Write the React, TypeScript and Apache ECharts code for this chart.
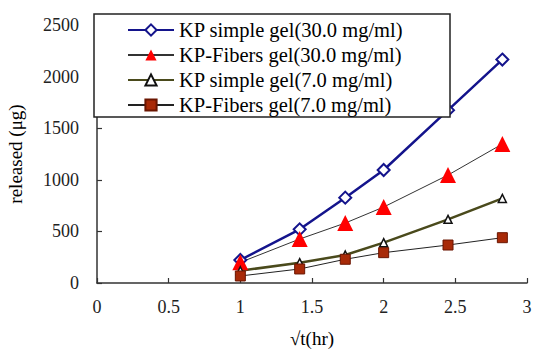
import React, { useEffect, useRef } from "react";
import * as echarts from "echarts";

const xValues = [1, 1.414, 1.732, 2, 2.449, 2.828];
const seriesNames = [
  "KP simple gel(30.0 mg/ml)",
  "KP-Fibers gel(30.0 mg/ml)",
  "KP simple gel(7.0 mg/ml)",
  "KP-Fibers gel(7.0 mg/ml)",
];
const simple30 = [223, 520, 827, 1095, 1675, 2165];
const fibers30 = [200, 426, 581, 736, 1046, 1347];
const simple7 = [119, 197, 271, 391, 617, 820];
const fibers7 = [68, 136, 230, 294, 368, 439];

const FONT = "'Liberation Serif', 'Times New Roman', serif";

export default function App() {
  const ref = useRef<HTMLDivElement>(null);
  useEffect(() => {
    document.body.style.margin = "0";
    if (!ref.current) return;
    const chart = echarts.init(ref.current, null, { renderer: "svg" });
    const pair = (ys: number[]) => xValues.map((x, i) => [x, ys[i]]);
    chart.setOption({
      animation: false,
      backgroundColor: "#fff",
      textStyle: { fontFamily: FONT },
      grid: { left: 97, right: 6, top: 25, bottom: 68, containLabel: false, outerBoundsMode: "none" },
      graphic: [
        {
          type: "rect",
          z: 50,
          shape: { x: 94, y: 14, width: 356, height: 103 },
          style: { fill: "#fff", stroke: "#222", lineWidth: 1.5 },
        },
      ],
      legend: {
        orient: "vertical",
        left: 127,
        top: 19.5,
        z: 60,
        padding: 0,
        itemWidth: 46,
        itemHeight: 14,
        itemGap: 4,
        textStyle: { fontFamily: FONT, fontSize: 20.5, color: "#000" },
        data: seriesNames,
      },
      xAxis: {
        type: "value",
        min: 0,
        max: 3,
        interval: 0.5,
        name: "√t(hr)",
        nameLocation: "middle",
        nameGap: 46,
        nameTextStyle: { fontFamily: FONT, fontSize: 19, color: "#000" },
        axisLine: { lineStyle: { color: "#333", width: 1.5 } },
        axisTick: { inside: true, length: 5, lineStyle: { color: "#333", width: 1.2 } },
        axisLabel: { fontFamily: FONT, fontSize: 18, color: "#222", margin: 15 },
        splitLine: { show: false },
      },
      yAxis: {
        type: "value",
        min: 0,
        max: 2500,
        interval: 500,
        name: "released (μg)",
        nameLocation: "middle",
        nameGap: 72,
        nameTextStyle: { fontFamily: FONT, fontSize: 19, color: "#000" },
        axisLine: { show: true, lineStyle: { color: "#333", width: 1.5 } },
        axisTick: { show: true, inside: true, length: 5, lineStyle: { color: "#333", width: 1.2 } },
        axisLabel: {
          fontFamily: FONT,
          fontSize: 18,
          color: "#222",
          margin: 18,
          formatter: (v: number) => String(v),
        },
        splitLine: { show: false },
      },
      series: [
        {
          name: seriesNames[0],
          type: "line",
          data: pair(simple30),
          symbol: "diamond",
          symbolSize: 12,
          lineStyle: { color: "#14148c", width: 2.5 },
          itemStyle: { color: "#fff", borderColor: "#14148c", borderWidth: 2 },
        },
        {
          name: seriesNames[1],
          type: "line",
          data: pair(fibers30),
          symbol: "triangle",
          symbolSize: 16,
          lineStyle: { color: "#333", width: 1 },
          itemStyle: { color: "#ff0000", borderWidth: 0 },
        },
        {
          name: seriesNames[2],
          type: "line",
          data: pair(simple7),
          symbol: "triangle",
          symbolSize: 8,
          lineStyle: { color: "#4a4a1c", width: 2.5 },
          itemStyle: { color: "#fff", borderColor: "#111", borderWidth: 1.5 },
        },
        {
          name: seriesNames[3],
          type: "line",
          data: pair(fibers7),
          symbol: "rect",
          symbolSize: 10,
          lineStyle: { color: "#222", width: 1 },
          itemStyle: { color: "#a82a08", borderColor: "#6a1500", borderWidth: 1 },
        },
      ],
    });
    return () => chart.dispose();
  }, []);
  return (
    <div
      ref={ref}
      style={{ position: "fixed", left: 0, top: 0, width: 533, height: 351, background: "#fff" }}
    />
  );
}
